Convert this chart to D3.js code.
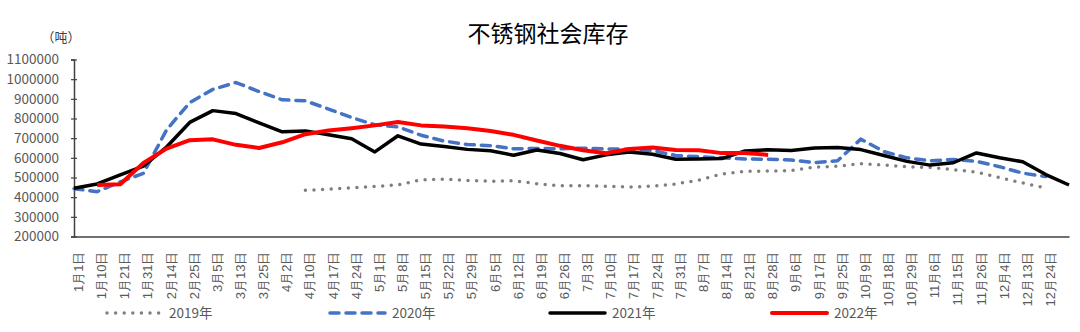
<!DOCTYPE html>
<html><head><meta charset="utf-8">
<script src="https://cdn.jsdelivr.net/npm/d3@7"></script>
<style>
html,body{margin:0;padding:0;background:#fff;}
svg{display:block;font-family:"Noto Sans CJK SC","Noto Sans",sans-serif;}
</style></head>
<body><svg id="c" width="1080" height="332"></svg>
<script>
const categories = ["1月1日","1月10日","1月21日","1月31日","2月14日","2月25日","3月5日","3月13日","3月25日","4月2日","4月10日","4月17日","4月24日","5月1日","5月8日","5月15日","5月22日","5月29日","6月5日","6月12日","6月19日","6月26日","7月3日","7月10日","7月17日","7月24日","7月31日","8月7日","8月14日","8月21日","8月28日","9月6日","9月17日","9月25日","10月9日","10月18日","10月29日","11月6日","11月15日","11月26日","12月4日","12月13日","12月24日",""];
const seriesNames = ["2019年","2020年","2021年","2022年"];
const s2019 = [null,null,null,null,null,null,null,null,null,null,435000,440000,448000,455000,462000,488000,492000,485000,481000,484000,468000,458000,458000,456000,451000,456000,467000,487000,518000,531000,533000,535000,553000,557000,570000,563000,555000,551000,540000,527000,500000,472000,447000,null];
const s2020 = [443000,428000,478000,521000,742000,881000,948000,983000,937000,895000,890000,848000,805000,768000,757000,715000,685000,668000,662000,646000,648000,646000,649000,645000,644000,637000,612000,606000,600000,594000,593000,589000,576000,585000,695000,632000,600000,585000,592000,582000,555000,522000,505000,null];
const s2021 = [445000,467000,513000,558000,655000,780000,840000,825000,778000,732000,737000,717000,697000,630000,712000,670000,658000,643000,636000,613000,640000,622000,590000,615000,630000,618000,593000,594000,596000,635000,641000,637000,650000,653000,642000,612000,582000,563000,575000,625000,600000,580000,515000,462000];
const s2022 = [null,462000,466000,574000,647000,690000,694000,666000,650000,679000,720000,739000,751000,765000,782000,765000,759000,750000,736000,717000,688000,661000,639000,623000,645000,653000,640000,638000,624000,625000,615000,null,null,null,null,null,null,null,null,null,null,null,null,null];
const yTicks = [200000,300000,400000,500000,600000,700000,800000,900000,1000000,1100000];

const svg = d3.select("#c");
const x = d3.scalePoint().domain(d3.range(categories.length)).range([74,1069]).padding(0);
const y = d3.scaleLinear().domain([200000,1100000]).range([236.5,59.5]);

// title & unit
svg.append("text").attr("x",548).attr("y",42).attr("text-anchor","middle")
  .attr("font-size",23).attr("fill","#000").text("不锈钢社会库存");
svg.append("text").attr("x",61).attr("y",42).attr("text-anchor","middle")
  .attr("font-size",13).attr("fill","#404040").text("（吨）");

// y axis
const ya = svg.append("g").attr("transform","translate(74,0)")
  .call(d3.axisLeft(y).tickValues(yTicks).tickFormat(d3.format("d")).tickSize(3).tickPadding(12));
ya.select(".domain").attr("stroke","#404040").attr("stroke-width",1.5);
ya.selectAll(".tick line").attr("stroke","#404040").attr("stroke-width",1.2).attr("x2",-3).attr("x1",3);
ya.selectAll(".tick text").attr("font-size",13.5).attr("fill","#595959")
  .attr("font-family","Noto Sans CJK SC, sans-serif");

// x axis
const xa = svg.append("g").attr("transform","translate(0,236.5)")
  .call(d3.axisBottom(x).tickFormat(i=>categories[i]).tickSize(0));
xa.select(".domain").attr("stroke","#404040").attr("stroke-width",1.5);
xa.selectAll(".tick text").attr("font-size",13).attr("fill","#595959")
  .attr("text-anchor","end").attr("y",0).attr("dy","0.35em")
  .attr("transform","translate(4,15) rotate(-90)");

const styles = [
  {data:s2019, color:"#7f7f7f", w:3.5, dash:"0 8.6", cap:"round"},
  {data:s2020, color:"#4472C4", w:3.5, dash:"9 7", cap:"round"},
  {data:s2021, color:"#000000", w:3.5, dash:null, cap:"butt"},
  {data:s2022, color:"#FF0000", w:4, dash:null, cap:"butt"}
];
const line = d3.line().defined(d=>d.v!=null).x(d=>x(d.i)).y(d=>y(d.v));
styles.forEach(s=>{
  svg.append("path").datum(s.data.map((v,i)=>({i,v})))
    .attr("d",line).attr("fill","none").attr("stroke",s.color)
    .attr("stroke-width",s.w).attr("stroke-linejoin","round")
    .attr("stroke-linecap",s.cap).attr("stroke-dasharray",s.dash);
});

// legend
const lx = [105,328,548,770];
const lg = svg.append("g");
styles.forEach((s,k)=>{
  const g = lg.append("g").attr("transform",`translate(${lx[k]},313)`);
  g.append("line").attr("x1",2).attr("x2",57).attr("y1",0).attr("y2",0)
    .attr("stroke",s.color).attr("stroke-width",s.w).attr("stroke-linecap",s.cap==="butt"?"round":s.cap)
    .attr("stroke-dasharray",s.dash);
  g.append("text").attr("x",64).attr("y",0).attr("dy","0.35em").attr("font-size",13.5)
    .attr("fill","#595959").text(seriesNames[k]);
});
</script></body></html>
